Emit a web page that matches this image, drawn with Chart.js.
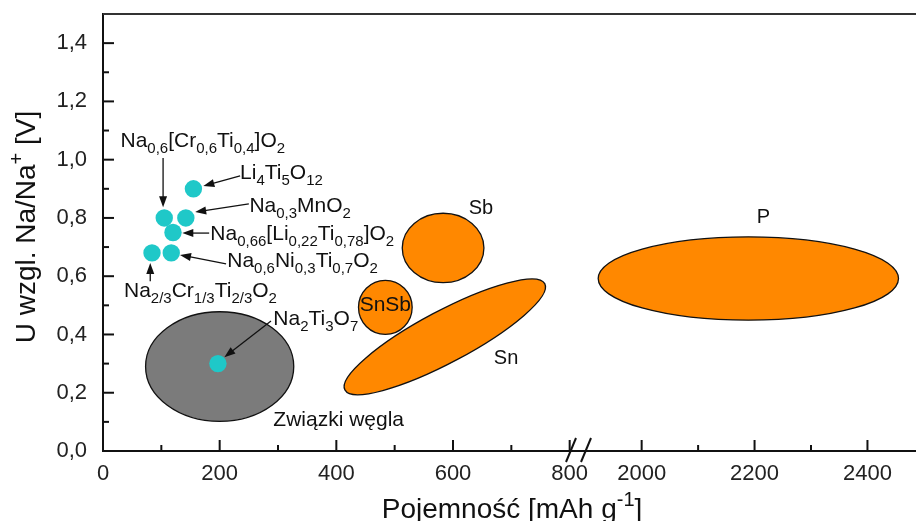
<!DOCTYPE html>
<html>
<head>
<meta charset="utf-8">
<script src="https://cdn.jsdelivr.net/npm/chart.js@4.4.0/dist/chart.umd.min.js"></script>
<style>
  html, body { margin: 0; padding: 0; background: #fff; }
  #wrap { width: 916px; height: 521px; }
</style>
</head>
<body>
<div id="wrap"><canvas id="chart"></canvas></div>
<script>
// single materials: capacity [mAh/g] and voltage [V]
const pointNames = ['Li_{4}Ti_{5}O_{12}', 'Na_{0,6}[Cr_{0,6}Ti_{0,4}]O_{2}', 'Na_{0,3}MnO_{2}',
  'Na_{0,66}[Li_{0,22}Ti_{0,78}]O_{2}', 'Na_{0,6}Ni_{0,3}Ti_{0,7}O_{2}', 'Na_{2/3}Cr_{1/3}Ti_{2/3}O_{2}', 'Na_{2}Ti_{3}O_{7}'];
const pointCapacity = [155, 105, 142, 120, 117, 84, 197];
const pointVoltage = [0.90, 0.80, 0.80, 0.75, 0.68, 0.68, 0.30];

// material groups drawn as ellipses: centre, half-width, half-height, tilt (deg)
const regionNames = ['Związki węgla', 'SnSb', 'Sn', 'Sb', 'P'];
const regionCapacity = [200, 484, 586, 583, 2189];
const regionVoltage = [0.29, 0.493, 0.392, 0.697, 0.592];
const regionHalfWidth = [127, 46, 194, 70, 266];
const regionHalfHeight = [0.188, 0.093, 0.089, 0.119, 0.143];
const regionTilt = [0, 0, 28, 0, 0];

// axis ticks (x axis is broken between 800 and 2000)
const xTicksLow = [0, 200, 400, 600, 800];
const xMinorLow = [100, 300, 500, 700];
const xTicksHigh = [2000, 2200, 2400];
const xMinorHigh = [2100, 2300];
const yTicks = [0, 0.2, 0.4, 0.6, 0.8, 1.0, 1.2, 1.4];
const yMinor = [0.1, 0.3, 0.5, 0.7, 0.9, 1.1, 1.3];

const FONT = 'Arial, "Liberation Sans", Helvetica, sans-serif';
const regionColors = ['#7b7b7b', '#ff8800', '#ff8800', '#ff8800', '#ff8800'];
const cyan = '#1fc8c8';

// label anchors (left edge / baseline, in data units) and arrows
const notes = [
  { text: pointNames[1], x: 30, y: 1.045 },
  { text: pointNames[0], x: 235, y: 0.934 },
  { text: pointNames[2], x: 251, y: 0.821 },
  { text: pointNames[3], x: 184, y: 0.724 },
  { text: pointNames[4], x: 213, y: 0.632 },
  { text: pointNames[5], x: 36, y: 0.528 },
  { text: pointNames[6], x: 292, y: 0.432 },
  { text: regionNames[0], x: 292, y: 0.086 },
  { text: regionNames[1], x: 440, y: 0.481 },
  { text: regionNames[2], x: 670, y: 0.298, size: 20 },
  { text: regionNames[3], x: 627, y: 0.812, size: 20 },
  { text: regionNames[4], x: 2204, y: 0.784, size: 20, axis: 'x2' }
];
const arrows = [
  [103, 1.006, 103, 0.837],
  [235, 0.944, 172, 0.910],
  [250, 0.848, 158, 0.820],
  [182, 0.748, 136, 0.748],
  [211, 0.642, 132, 0.673],
  [81, 0.583, 81, 0.645],
  [288, 0.446, 208, 0.322]
];

const axisFor = v => (v > 1000 ? 'x2' : 'x');

function drawRich(ctx, str, x, y, size, center) {
  const parts = [];
  const re = /([_^])\{([^}]*)\}/g;
  let last = 0, m;
  while ((m = re.exec(str))) {
    if (m.index > last) parts.push({ t: str.slice(last, m.index), k: '' });
    parts.push({ t: m[2], k: m[1] });
    last = re.lastIndex;
  }
  if (last < str.length) parts.push({ t: str.slice(last), k: '' });
  const small = Math.round(size * 0.72);
  let total = 0;
  parts.forEach(p => {
    ctx.font = (p.k ? small : size) + 'px ' + FONT;
    p.w = ctx.measureText(p.t).width;
    total += p.w;
  });
  let cx = center ? x - total / 2 : x;
  parts.forEach(p => {
    ctx.font = (p.k ? small : size) + 'px ' + FONT;
    const dy = p.k === '_' ? size * 0.3 : p.k === '^' ? -size * 0.42 : 0;
    ctx.fillText(p.t, cx, y + dy);
    cx += p.w;
  });
}

const regionsPlugin = {
  id: 'regions',
  beforeDatasetsDraw(chart) {
    const { ctx, chartArea: a, scales } = chart;
    ctx.save();
    ctx.beginPath();
    ctx.rect(a.left, a.top, a.right - a.left, a.bottom - a.top);
    ctx.clip();
    regionNames.forEach((name, i) => {
      const xs = scales[axisFor(regionCapacity[i])];
      const px = xs.getPixelForValue(regionCapacity[i]);
      const py = scales.y.getPixelForValue(regionVoltage[i]);
      const rx = xs.getPixelForValue(regionCapacity[i] + regionHalfWidth[i]) - px;
      const ry = py - scales.y.getPixelForValue(regionVoltage[i] + regionHalfHeight[i]);
      ctx.beginPath();
      ctx.ellipse(px, py, rx, ry, -regionTilt[i] * Math.PI / 180, 0, Math.PI * 2);
      ctx.fillStyle = regionColors[i];
      ctx.fill();
      ctx.lineWidth = 1.3;
      ctx.strokeStyle = '#111';
      ctx.stroke();
    });
    ctx.restore();
  }
};

const notesPlugin = {
  id: 'notes',
  afterDatasetsDraw(chart) {
    const { ctx, scales } = chart;
    ctx.save();
    ctx.fillStyle = '#111';
    ctx.strokeStyle = '#111';
    ctx.textBaseline = 'alphabetic';
    ctx.textAlign = 'left';
    notes.forEach(n => {
      const xs = scales[n.axis || 'x'];
      drawRich(ctx, n.text, xs.getPixelForValue(n.x), scales.y.getPixelForValue(n.y), n.size || 21, false);
    });
    arrows.forEach(([x1, y1, x2, y2]) => {
      const ax = scales.x.getPixelForValue(x1), ay = scales.y.getPixelForValue(y1);
      const bx = scales.x.getPixelForValue(x2), by = scales.y.getPixelForValue(y2);
      const ang = Math.atan2(by - ay, bx - ax);
      ctx.lineWidth = 1.3;
      ctx.beginPath();
      ctx.moveTo(ax, ay);
      ctx.lineTo(bx - Math.cos(ang) * 8, by - Math.sin(ang) * 8);
      ctx.stroke();
      ctx.beginPath();
      ctx.moveTo(bx, by);
      ctx.lineTo(bx - Math.cos(ang) * 11 + Math.sin(ang) * 4, by - Math.sin(ang) * 11 - Math.cos(ang) * 4);
      ctx.lineTo(bx - Math.cos(ang) * 11 - Math.sin(ang) * 4, by - Math.sin(ang) * 11 + Math.cos(ang) * 4);
      ctx.closePath();
      ctx.fill();
    });
    ctx.restore();
  }
};

const framePlugin = {
  id: 'frame',
  afterDraw(chart) {
    const { ctx, chartArea: a, scales } = chart;
    ctx.save();
    ctx.strokeStyle = '#111';
    ctx.lineWidth = 2;
    const mark = (scale, values, len) => values.forEach(v => {
      const p = scale.getPixelForValue(v);
      ctx.beginPath();
      if (scale.isHorizontal()) {
        ctx.moveTo(p, a.bottom);
        ctx.lineTo(p, a.bottom - len);
      } else {
        ctx.moveTo(a.left, p);
        ctx.lineTo(a.left + len, p);
      }
      ctx.stroke();
    });
    mark(scales.x, xTicksLow, 11);
    mark(scales.x, xMinorLow, 6);
    mark(scales.x2, xTicksHigh, 11);
    mark(scales.x2, xMinorHigh, 6);
    mark(scales.y, yTicks, 11);
    mark(scales.y, yMinor, 6);

    // top line
    ctx.strokeStyle = '#333';
    ctx.beginPath();
    ctx.moveTo(a.left, a.top);
    ctx.lineTo(a.right, a.top);
    ctx.stroke();

    // axis break
    const b = scales.x.right;
    ctx.strokeStyle = '#111';
    ctx.lineWidth = 2;
    [b - 8, b + 7].forEach(c => {
      ctx.beginPath();
      ctx.moveTo(c - 5, a.bottom + 11);
      ctx.lineTo(c + 5, a.bottom - 13);
      ctx.stroke();
    });

    // axis titles
    ctx.fillStyle = '#111';
    ctx.textBaseline = 'alphabetic';
    drawRich(ctx, 'Pojemność [mAh g^{-1}]', 512, 518, 28, true);
    ctx.translate(35, 227);
    ctx.rotate(-Math.PI / 2);
    drawRich(ctx, 'U wzgl. Na/Na^{+} [V]', 0, 0, 28, true);
    ctx.restore();
  }
};

// keep the plot area fixed: no extra room for overhanging tick labels
const noOverhang = s => {
  s.paddingTop = 0;
  s.paddingBottom = 0;
  s.paddingLeft = 0;
  s.paddingRight = 0;
};

const tickFont = { family: FONT, size: 22 };
const xAxisBase = {
  type: 'linear',
  position: 'bottom',
  stack: 'capacity',
  grid: { drawOnChartArea: false, drawTicks: false },
  border: { display: true, color: '#111', width: 2 },
  ticks: { font: tickFont, color: '#222', padding: 10, autoSkip: false, maxRotation: 0, callback: v => String(v) },
  afterFit: s => { s.height = 70; noOverhang(s); }
};

new Chart(document.getElementById('chart'), {
  type: 'scatter',
  data: {
    datasets: [{
      label: 'materiały',
      data: pointCapacity.map((c, i) => ({ x: c, y: pointVoltage[i] })),
      xAxisID: 'x',
      yAxisID: 'y',
      backgroundColor: cyan,
      borderWidth: 0,
      pointRadius: 8.7,
      pointHoverRadius: 8.7
    }]
  },
  options: {
    responsive: true,
    maintainAspectRatio: false,
    animation: false,
    layout: { autoPadding: false, padding: { top: 14, left: 0, right: 0, bottom: 0 } },
    plugins: { legend: { display: false }, tooltip: { enabled: false } },
    scales: {
      x: Object.assign({}, xAxisBase, {
        min: 0, max: 816, stackWeight: 476,
        afterBuildTicks: s => { s.ticks = xTicksLow.map(v => ({ value: v })); }
      }),
      x2: Object.assign({}, xAxisBase, {
        min: 1889, max: 2486, stackWeight: 337,
        afterBuildTicks: s => { s.ticks = xTicksHigh.map(v => ({ value: v })); }
      }),
      y: {
        type: 'linear',
        position: 'left',
        min: 0, max: 1.5,
        grid: { drawOnChartArea: false, drawTicks: false },
        border: { display: true, color: '#111', width: 2 },
        ticks: {
          font: tickFont, color: '#222', padding: 16, autoSkip: false,
          callback: v => v.toFixed(1).replace('.', ',')
        },
        afterBuildTicks: s => { s.ticks = yTicks.map(v => ({ value: v })); },
        afterFit: s => { s.width = 103; noOverhang(s); }
      }
    }
  },
  plugins: [regionsPlugin, notesPlugin, framePlugin]
});
</script>
</body>
</html>
